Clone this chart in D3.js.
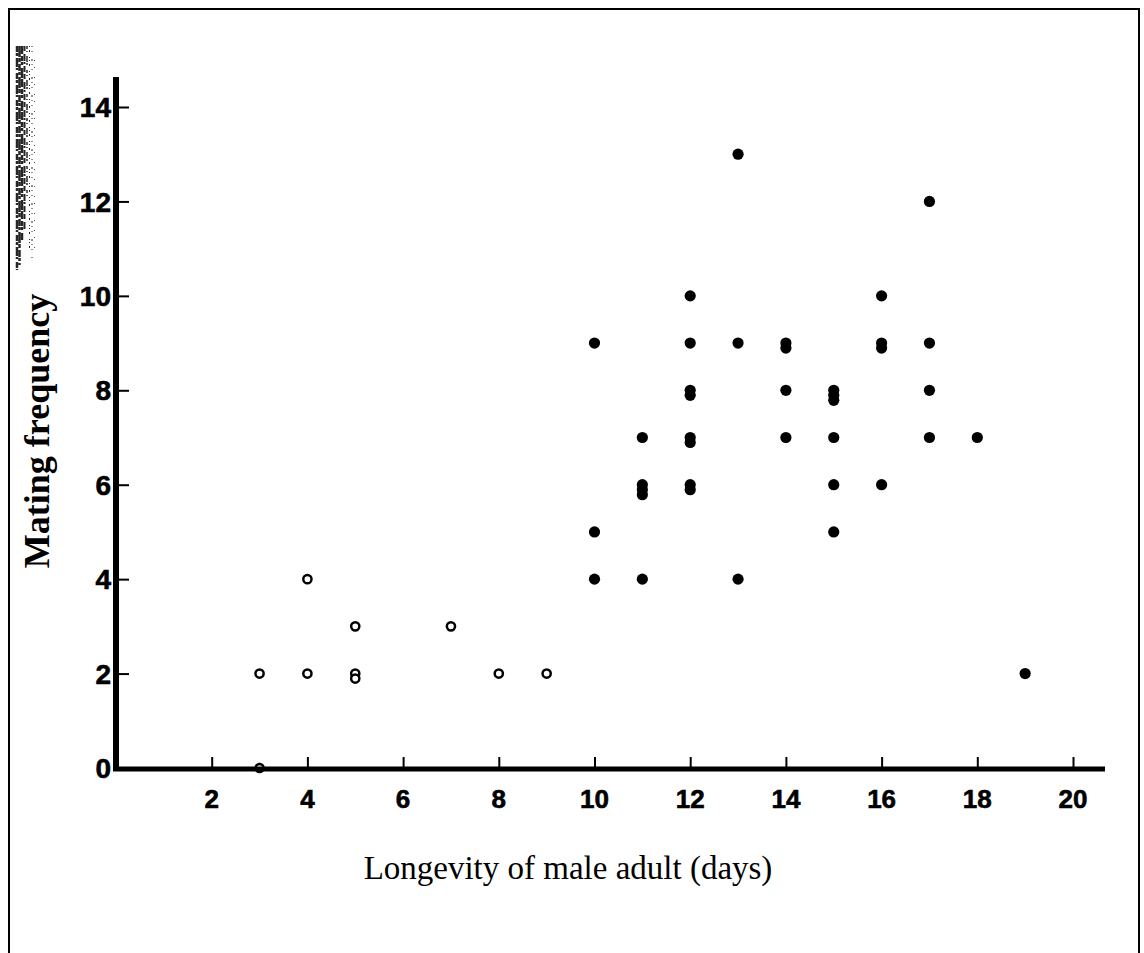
<!DOCTYPE html>
<html>
<head>
<meta charset="utf-8">
<script src="https://cdn.jsdelivr.net/npm/d3@7"></script>
<style>
  html, body { margin: 0; padding: 0; background: #fff; }
  svg { display: block; }
</style>
</head>
<body>
<script>
// Males that lived under 10 days (open circles)
const shortLivedDays = [3, 3, 4, 4, 5, 5, 5, 7, 8, 9];
const shortLivedMatings = [2, 0, 4, 2, 3, 2, 2, 3, 2, 2];

// Males that lived 10 days or more (filled circles)
const longLivedDays = [
  10, 10, 10,
  11, 11, 11, 11, 11,
  12, 12, 12, 12, 12, 12, 12, 12,
  13, 13, 13,
  14, 14, 14, 14,
  15, 15, 15, 15, 15, 15,
  16, 16, 16, 16,
  17, 17, 17, 17,
  18,
  19
];
const longLivedMatings = [
  9, 5, 4,
  7, 6, 6, 6, 4,
  10, 9, 8, 8, 7, 7, 6, 6,
  13, 9, 4,
  9, 9, 8, 7,
  8, 8, 8, 7, 6, 5,
  10, 9, 9, 6,
  12, 9, 8, 7,
  7,
  2
];

const xTickValues = [2, 4, 6, 8, 10, 12, 14, 16, 18, 20];
const yTickValues = [0, 2, 4, 6, 8, 10, 12, 14];

const width = 1144, height = 953;
const svg = d3.select("body").append("svg")
  .attr("width", width).attr("height", height);

svg.append("rect").attr("width", width).attr("height", height).attr("fill", "#fff");

// page frame (open at the bottom)
svg.append("path")
  .attr("d", `M9,${height + 5} V9 H1139 V${height + 5}`)
  .attr("fill", "none").attr("stroke", "#000").attr("stroke-width", 2);

// speckled strip along the left margin of the page
const speckle = svg.append("g").attr("stroke", "#000");
[
  {x: 17, y1: 46, y2: 270, w: 2.5, dash: "6 1 3 2 9 1 2 3"},
  {x: 19.5, y1: 46, y2: 265, w: 2.5, dash: "11 1 4 2 7 1 3 2"},
  {x: 22, y1: 46, y2: 240, w: 2.5, dash: "8 2 5 1 3 3 10 1"},
  {x: 24.5, y1: 46, y2: 230, w: 2, dash: "5 3 7 1 2 2 6 2"},
  {x: 27, y1: 46, y2: 200, w: 1.5, dash: "3 2 1 4 6 1 2 5"},
  {x: 29.5, y1: 46, y2: 250, w: 1, dash: "1 3 2 5 1 2"},
  {x: 32, y1: 46, y2: 258, w: 1, dash: "1 4 1 7 2 3"},
  {x: 34.5, y1: 60, y2: 250, w: 0.8, dash: "1 6 1 9"}
].forEach(s => {
  speckle.append("line")
    .attr("x1", s.x).attr("x2", s.x).attr("y1", s.y1).attr("y2", s.y2)
    .attr("stroke-width", s.w).attr("stroke-dasharray", s.dash)
    .attr("stroke-opacity", 0.85);
});

const x = d3.scaleLinear().domain([0, 20]).range([116, 1073]);
const y = d3.scaleLinear().domain([0, 14]).range([768, 107]);

const tickFont = "'Liberation Sans', Arial, sans-serif";

// coincident observations are stacked a few pixels apart
function stacked(days, matings) {
  const seen = new Map();
  return days.map((d, i) => {
    const key = d + "|" + matings[i];
    const n = seen.get(key) || 0;
    seen.set(key, n + 1);
    return {days: d, matings: matings[i], slot: n};
  });
}

svg.append("g").selectAll("circle")
  .data(stacked(longLivedDays, longLivedMatings)).join("circle")
  .attr("cx", d => x(d.days))
  .attr("cy", d => y(d.matings) + d.slot * 5)
  .attr("r", 5.6)
  .attr("fill", "#000");

svg.append("g").selectAll("circle")
  .data(stacked(shortLivedDays, shortLivedMatings)).join("circle")
  .attr("cx", d => x(d.days))
  .attr("cy", d => y(d.matings) + d.slot * 5)
  .attr("r", 4.1)
  .attr("fill", "#fff").attr("stroke", "#000").attr("stroke-width", 2.5);

// axis lines
svg.append("line")
  .attr("x1", x(0)).attr("x2", x(0)).attr("y1", 77).attr("y2", y(0) + 3)
  .attr("stroke", "#000").attr("stroke-width", 6);
svg.append("line")
  .attr("x1", x(0) - 3).attr("x2", 1105).attr("y1", y(0) + 1).attr("y2", y(0) + 1)
  .attr("stroke", "#000").attr("stroke-width", 5);

// y axis: ticks pointing into the plot, labels on the left
const yAxis = d3.axisRight(y).tickValues(yTickValues).tickSize(13).tickFormat("");
const yG = svg.append("g").attr("transform", `translate(${x(0)},0)`).call(yAxis);
yG.select(".domain").remove();
yG.selectAll(".tick line").attr("stroke", "#000").attr("stroke-width", 2);

svg.append("g").selectAll("text").data(yTickValues).join("text")
  .attr("x", 111).attr("y", d => y(d)).attr("dy", "0.36em")
  .attr("text-anchor", "end")
  .attr("font-family", tickFont).attr("font-weight", "bold").attr("font-size", 28)
  .attr("stroke", "#000").attr("stroke-width", 0.6)
  .text(d => d);

// x axis: ticks pointing up, labels below
const xAxis = d3.axisTop(x).tickValues(xTickValues).tickSize(11).tickFormat("");
const xG = svg.append("g").attr("transform", `translate(0,${y(0)})`).call(xAxis);
xG.select(".domain").remove();
xG.selectAll(".tick line").attr("stroke", "#000").attr("stroke-width", 2);

svg.append("g").selectAll("text").data(xTickValues).join("text")
  .attr("x", d => x(d)).attr("y", 808)
  .attr("text-anchor", "middle")
  .attr("font-family", tickFont).attr("font-weight", "bold").attr("font-size", 26)
  .attr("stroke", "#000").attr("stroke-width", 0.6)
  .text(d => d);

// axis titles
svg.append("text")
  .attr("x", 568).attr("y", 879)
  .attr("text-anchor", "middle")
  .attr("font-family", "'Liberation Serif', 'Times New Roman', serif")
  .attr("font-size", 33)
  .text("Longevity of male adult (days)");

svg.append("text")
  .attr("transform", "translate(49,431) rotate(-90)")
  .attr("text-anchor", "middle")
  .attr("font-family", "'Liberation Serif', 'Times New Roman', serif")
  .attr("font-weight", "bold")
  .attr("font-size", 36)
  .text("Mating frequency");
</script>
</body>
</html>
